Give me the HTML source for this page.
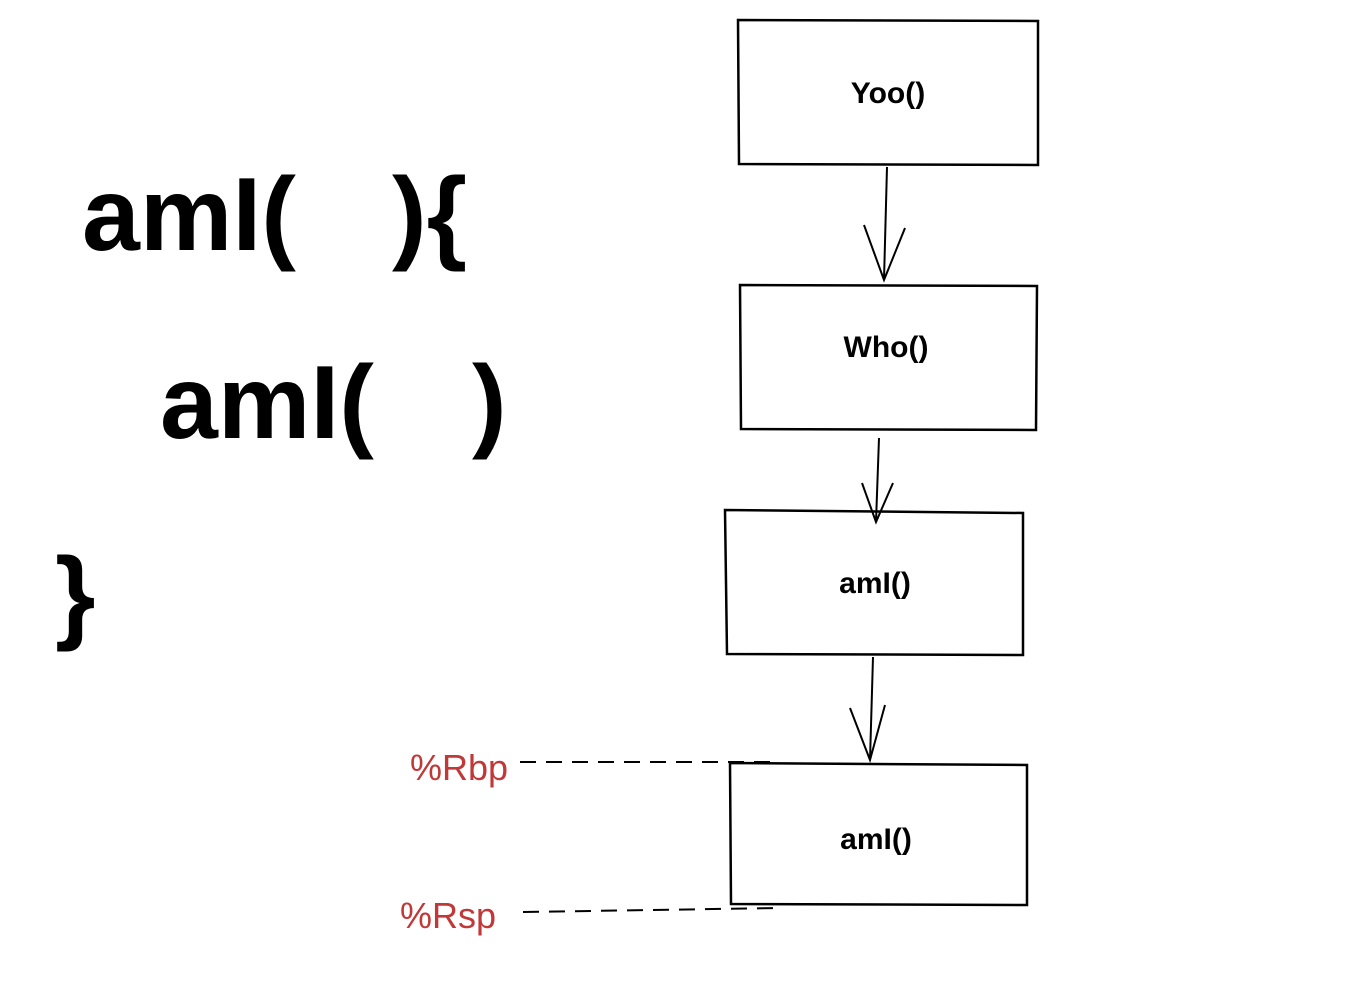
<!DOCTYPE html>
<html><head><meta charset="utf-8"><style>
html,body{margin:0;padding:0;background:#fff;}
svg{display:block}
</style></head><body>
<svg width="1356" height="998" viewBox="0 0 1356 998" xmlns="http://www.w3.org/2000/svg">
<g fill="none" stroke="#000" stroke-width="2.5">
<path d="M738 20 L1038 21 L1038 165 L739 164 Z"/>
<path d="M740 285 L1037 286 L1036 430 L741 429 Z"/>
<path d="M725 510 L1023 513 L1023 655 L727 654 Z"/>
<path d="M730 763 L1027 765 L1027 905 L731 904 Z"/>
</g>
<g fill="none" stroke="#000" stroke-width="2">
<path d="M887 167 L884 280 M864 225 L884 280 L905 228"/>
<path d="M879 438 L876 522 M862 483 L876 522 L893 483"/>
<path d="M873 657 L870 760 M850 708 L870 760 L885 705"/>
</g>
<g stroke="#000" stroke-width="2" stroke-dasharray="16,10" fill="none">
<path d="M520 762 L775 762"/>
<path d="M523 912 L780 908"/>
</g>
<g font-family="'Liberation Sans', sans-serif" font-weight="bold" font-size="30" text-anchor="middle" fill="#000">
<text x="888" y="103">Yoo()</text>
<text x="886" y="357">Who()</text>
<text x="875" y="593">amI()</text>
<text x="876" y="849">amI()</text>
</g>
<g font-family="'Liberation Sans', sans-serif" font-size="36" fill="#c03838">
<text x="410" y="780">%Rbp</text>
<text x="400" y="928">%Rsp</text>
</g>
<g font-family="'Liberation Sans', sans-serif" font-weight="bold" font-size="104" fill="#000">
<text x="82" y="250">amI(</text>
<text x="392" y="250">){</text>
<text x="160" y="438">amI(</text>
<text x="472" y="438">)</text>
<text x="55" y="630">}</text>
</g>
</svg>
</body></html>
